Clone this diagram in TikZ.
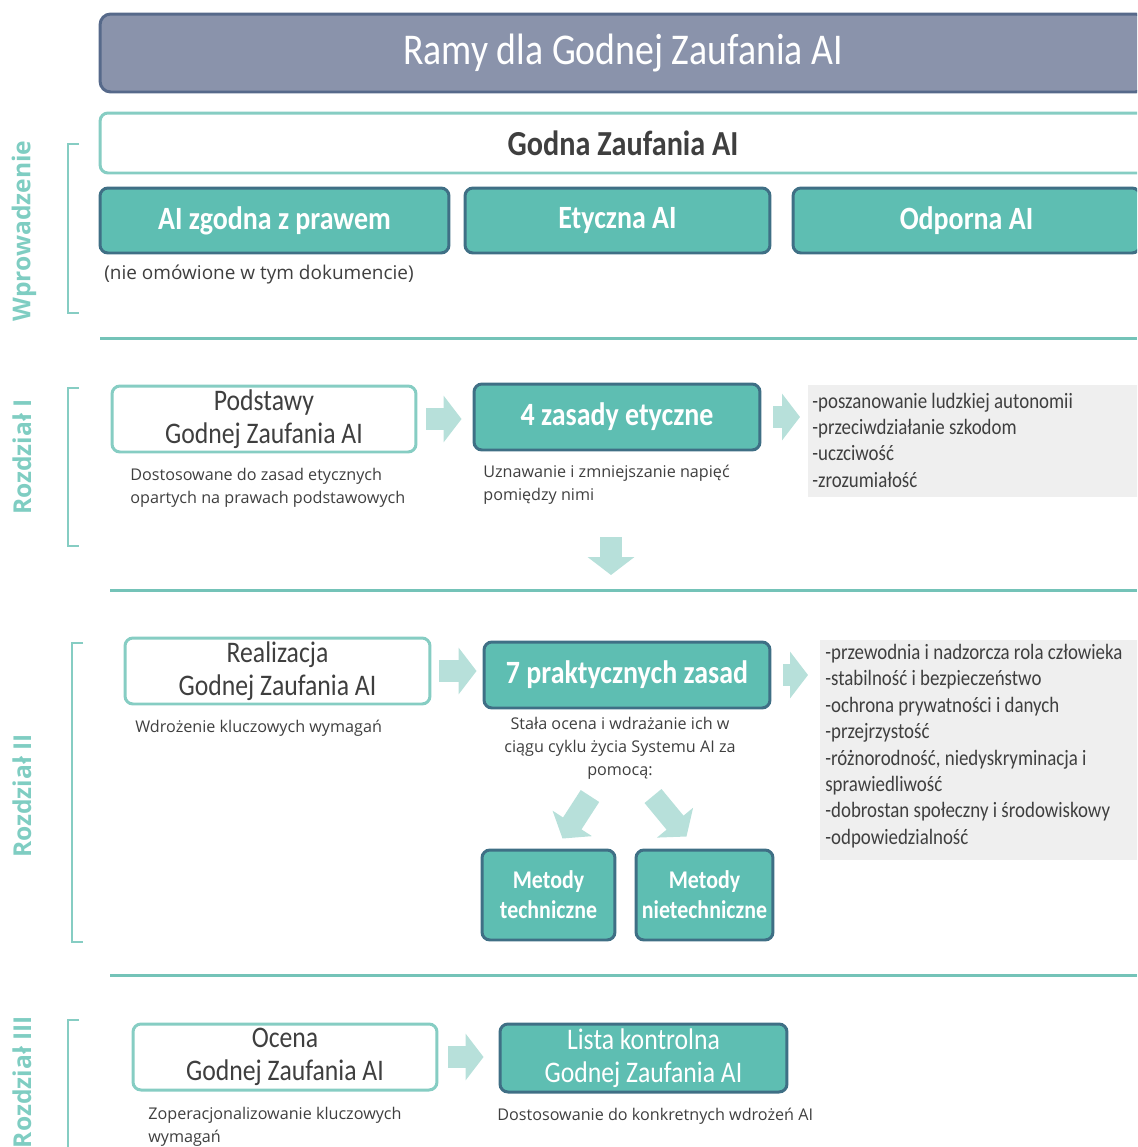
\documentclass[tikz,border=0pt]{standalone}
\usepackage{fontspec}
\setmainfont{Carlito}
\newfontfamily\boxfont[FakeStretch=0.86]{Carlito}
\newfontfamily\notefont{Open Sans}
\usetikzlibrary{arrows.meta}

\definecolor{tealfill}{HTML}{5EBEB2}
\definecolor{tealedge}{HTML}{3F6F85}
\definecolor{slatefill}{HTML}{8A93AB}
\definecolor{slateedge}{HTML}{56698A}
\definecolor{lightteal}{HTML}{86CDC3}
\definecolor{septeal}{HTML}{74C3B8}
\definecolor{arrowteal}{HTML}{B7E0DA}
\definecolor{panelgray}{HTML}{EFEFEF}
\definecolor{textgray}{HTML}{3F3F3F}
\definecolor{sidegreen}{HTML}{7FCDC2}

\tikzset{
  box/.style={rounded corners=4.5pt, line width=1.7pt, align=center, inner sep=0pt},
  whitebox/.style={box, draw=lightteal, fill=white, text=textgray, font=\boxfont\fontsize{17}{19}\selectfont},
  tealbox/.style={box, draw=tealedge, fill=tealfill, text=white, font=\boxfont\bfseries\fontsize{18.5}{21}\selectfont},
  panel/.style={fill=panelgray, inner sep=0pt},
  listtext/.style={align=left, text=textgray, inner sep=0pt, font=\boxfont\fontsize{12.5}{15}\selectfont},
  note/.style={align=left, text=textgray, inner sep=0pt, font=\notefont\fontsize{9.2}{13}\selectfont},
  side/.style={rotate=90, text=sidegreen, inner sep=0pt, font=\notefont\bfseries\fontsize{14}{16}\selectfont},
  bigarrow/.style={draw=arrowteal, line width=0.44cm, -{Triangle[length=0.36cm,width=0.92cm]}},
  bracket/.style={draw=lightteal, line width=1pt},
  sepline/.style={draw=septeal, line width=1.7pt}
}

\begin{document}
\begin{tikzpicture}[x=0.02cm,y=-0.02cm]
\clip (0,0) rectangle (1137,1147);

% naglowek
\node[box, draw=slateedge, fill=slatefill, rounded corners=6pt, text=white, minimum width=20.92cm, minimum height=1.56cm, font=\boxfont\fontsize{25}{28}\selectfont] (ramy) at (623,53) {Ramy dla Godnej Zaufania AI};

% wprowadzenie
\node[whitebox, minimum width=20.92cm, minimum height=1.2cm, font=\boxfont\bfseries\fontsize{20}{22}\selectfont] (godna) at (623,143) {Godna Zaufania AI};
\node[tealbox, minimum width=6.98cm, minimum height=1.3cm] (prawo) at (274.5,220.5) {AI zgodna z prawem};
\node[tealbox, minimum width=6.1cm, minimum height=1.3cm] (etyka) at (617.5,220.5) {Etyczna AI};
\node[tealbox, minimum width=6.94cm, minimum height=1.3cm] (odporna) at (966.5,220.5) {Odporna AI};
\node[note, anchor=west, font=\notefont\fontsize{10.8}{13}\selectfont] (nieom) at (104,275) {(nie omówione w tym dokumencie)};
\draw[bracket] (79,144) -- (68,144) -- (68,313) -- (79,313);
\node[side] (wpr) at (24,231) {Wprowadzenie};
\draw[sepline] (100,338) -- (1137,338);

% rozdzial I
\node[whitebox, minimum width=6.08cm, minimum height=1.32cm] (podst) at (264,419) {Podstawy\\Godnej Zaufania AI};
\node[tealbox, minimum width=5.72cm, minimum height=1.32cm] (zas4) at (617,417) {4 zasady etyczne};
\node[panel, anchor=north west, minimum width=6.84cm, minimum height=2.24cm] (lista1) at (808,385) {};
\node[listtext, anchor=west] (lista1txt) at (812,440) {-poszanowanie ludzkiej autonomii\\-przeciwdziałanie szkodom\\-uczciwość\\-zrozumiałość};
\node[note, anchor=north west] (podnote) at (130,468) {Dostosowane do zasad etycznych\\opartych na prawach podstawowych};
\node[note, anchor=north west] (zas4note) at (483,465) {Uznawanie i zmniejszanie napięć\\pomiędzy nimi};
\draw[bigarrow, shorten <=0.18cm, shorten >=0.22cm] (podst.east) -- (podst.east -| zas4.west);
\draw[bigarrow, shorten <=0.24cm, shorten >=0.16cm] (zas4.east) -- (zas4.east -| lista1.west);
\coordinate (dol1) at (611,537);
\coordinate (dol2) at (611,575);
\draw[bigarrow] (dol1) -- (dol2);
\draw[bracket] (79,388) -- (68,388) -- (68,546) -- (79,546);
\node[side] (rozI) at (22,457) {Rozdział I};
\draw[sepline] (110,590) -- (1137,590);

% rozdzial II
\node[whitebox, minimum width=6.1cm, minimum height=1.32cm] (realiz) at (277.5,671) {Realizacja\\Godnej Zaufania AI};
\node[tealbox, minimum width=5.72cm, minimum height=1.32cm] (zas7) at (627,675) {7 praktycznych zasad};
\node[panel, anchor=north west, minimum width=6.6cm, minimum height=4.4cm] (lista2) at (820,640) {};
\node[listtext, anchor=west] (lista2txt) at (825,746) {-przewodnia i nadzorcza rola człowieka\\-stabilność i bezpieczeństwo\\-ochrona prywatności i danych\\-przejrzystość\\-różnorodność, niedyskryminacja i\\sprawiedliwość\\-dobrostan społeczny i środowiskowy\\-odpowiedzialność};
\node[note, anchor=north west] (realnote) at (135,720) {Wdrożenie kluczowych wymagań};
\node[note, anchor=north, align=center] (zas7note) at (620,717) {Stała ocena i wdrażanie ich w\\ciągu cyklu życia Systemu AI za\\pomocą:};
\node[tealbox, minimum width=2.66cm, minimum height=1.8cm, font=\boxfont\bfseries\fontsize{14.5}{17}\selectfont] (metT) at (548.5,895) {Metody\\techniczne};
\node[tealbox, minimum width=2.74cm, minimum height=1.8cm, font=\boxfont\bfseries\fontsize{14.5}{17}\selectfont] (metN) at (704.5,895) {Metody\\nietechniczne};
\draw[bigarrow, shorten <=0.16cm, shorten >=0.12cm] (realiz.east) -- (realiz.east -| zas7.west);
\draw[bigarrow, shorten <=0.24cm, shorten >=0.24cm] (zas7.east) -- (zas7.east -| lista2.west);
\coordinate (sk1) at (590,796);
\coordinate (sk2) at (653,796);
\draw[bigarrow] (sk1) -- ([shift={(14,-10)}]metT.north);
\draw[bigarrow] (sk2) -- ([shift={(-18,-12)}]metN.north);
\draw[bracket] (83,643) -- (72,643) -- (72,942) -- (83,942);
\node[side] (rozII) at (22,796) {Rozdział II};
\draw[sepline] (110,975) -- (1137,975);

% rozdzial III
\node[whitebox, minimum width=6.08cm, minimum height=1.32cm] (ocena) at (285,1057) {Ocena\\Godnej Zaufania AI};
\node[tealbox, minimum width=5.74cm, minimum height=1.36cm, font=\boxfont\fontsize{17}{19}\selectfont] (kontr) at (643.5,1058) {Lista kontrolna\\Godnej Zaufania AI};
\node[note, anchor=north west] (ocnote) at (148,1107) {Zoperacjonalizowanie kluczowych\\wymagań};
\node[note, anchor=north west] (kontrnote) at (497,1108) {Dostosowanie do konkretnych wdrożeń AI};
\draw[bigarrow, shorten <=0.2cm, shorten >=0.3cm] (ocena.east) -- (ocena.east -| kontr.west);
\draw[bracket] (79,1020) -- (68,1020) -- (68,1160);
\node[side] (rozIII) at (22,1082) {Rozdział III};
\end{tikzpicture}
\end{document}
